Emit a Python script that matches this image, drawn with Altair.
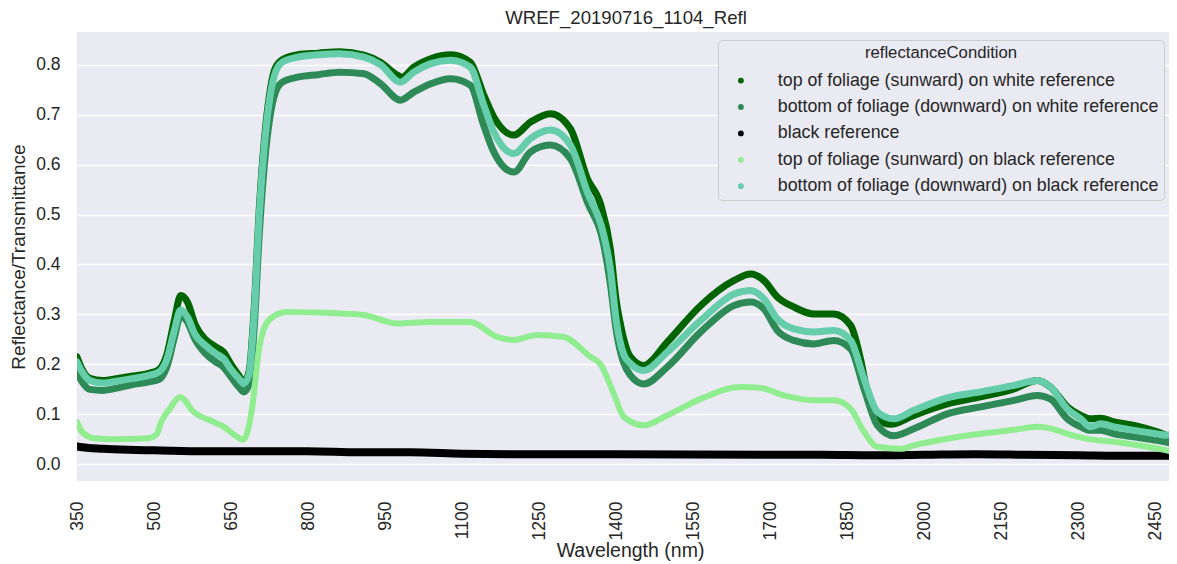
import altair as alt
import pandas as pd

# ---- data ----
SERIES = [
    "top of foliage (sunward) on white reference",
    "bottom of foliage (downward) on white reference",
    "black reference",
    "top of foliage (sunward) on black reference",
    "bottom of foliage (downward) on black reference",
]
COLORS = ["#006400", "#2E8B57", "#000000", "#90EE90", "#66CDAA"]
WIDTHS = [7, 7, 8, 6, 7]

top_white_wl = [350, 360, 375, 400, 430, 460, 490, 510, 525, 540, 552, 565, 580, 600, 620, 635, 650, 665, 675, 685,
                695, 705, 715, 725, 735, 750, 780, 820, 862, 909, 941, 974, 983, 1006, 1039, 1078, 1116, 1142, 1162,
                1201, 1233, 1272, 1311, 1344, 1370, 1389, 1400, 1409, 1428, 1454, 1500, 1565, 1630, 1662, 1688, 1714,
                1746, 1785, 1824, 1857, 1876, 1889, 1909, 1935, 1980, 2045, 2110, 2175, 2220, 2246, 2279, 2305, 2324,
                2344, 2370, 2409, 2454, 2487]
top_white_val = [0.215, 0.19, 0.172, 0.168, 0.172, 0.177, 0.182, 0.19, 0.22, 0.29, 0.338, 0.325, 0.28, 0.25, 0.235,
                 0.225, 0.2, 0.178, 0.165, 0.185, 0.31, 0.51, 0.65, 0.74, 0.79, 0.81, 0.82, 0.823, 0.826, 0.819, 0.805,
                 0.779, 0.775, 0.795, 0.812, 0.82, 0.805, 0.74, 0.695, 0.659, 0.685, 0.702, 0.672, 0.572, 0.52, 0.43,
                 0.33, 0.278, 0.215, 0.198, 0.245, 0.318, 0.368, 0.381, 0.368, 0.335, 0.315, 0.301, 0.301, 0.278,
                 0.211, 0.145, 0.091, 0.08, 0.098, 0.121, 0.135, 0.151, 0.168, 0.155, 0.115, 0.098, 0.091, 0.092,
                 0.085, 0.078, 0.065, 0.051]

bottom_white_wl = [350, 360, 375, 400, 430, 460, 490, 510, 525, 540, 552, 565, 580, 600, 620, 635, 650, 665, 675, 685,
                   695, 705, 715, 725, 735, 750, 780, 820, 862, 909, 941, 980, 1006, 1039, 1078, 1116, 1142, 1162,
                   1201, 1233, 1272, 1311, 1344, 1376, 1389, 1400, 1428, 1454, 1500, 1565, 1630, 1662, 1688, 1714,
                   1746, 1785, 1824, 1857, 1883, 1909, 1941, 1980, 2045, 2110, 2175, 2220, 2246, 2279, 2305, 2324,
                   2344, 2370, 2409, 2454, 2487]
bottom_white_val = [0.185, 0.165, 0.15, 0.148, 0.153, 0.16, 0.165, 0.17, 0.195, 0.255, 0.298, 0.285, 0.25, 0.222,
                    0.205, 0.195, 0.175, 0.155, 0.145, 0.16, 0.27, 0.46, 0.6, 0.69, 0.74, 0.765, 0.775, 0.78, 0.785,
                    0.782, 0.762, 0.729, 0.745, 0.762, 0.772, 0.759, 0.679, 0.625, 0.585, 0.625, 0.639, 0.612, 0.525,
                    0.439, 0.36, 0.27, 0.178, 0.161, 0.195, 0.265, 0.318, 0.325, 0.311, 0.268, 0.248, 0.241, 0.248,
                    0.231, 0.151, 0.078, 0.057, 0.071, 0.101, 0.115, 0.128, 0.138, 0.131, 0.091, 0.075, 0.068, 0.068,
                    0.061, 0.055, 0.048, 0.041]

black_wl = [350, 360, 400, 450, 500, 600, 700, 800, 900, 1000, 1100, 1200, 1400, 1700, 1800, 1900, 2000, 2100, 2200,
            2300, 2400, 2487]
black_val = [0.036, 0.034, 0.031, 0.029, 0.028, 0.026, 0.026, 0.026, 0.024, 0.024, 0.021, 0.02, 0.02, 0.019, 0.019,
             0.018, 0.019, 0.02, 0.019, 0.018, 0.017, 0.017]

top_black_wl = [350, 360, 384, 420, 488, 505, 514, 530, 551, 577, 616, 636, 655, 674, 690, 706, 725, 758, 862, 909,
                974, 1039, 1116, 1168, 1201, 1246, 1298, 1350, 1370, 1396, 1415, 1454, 1500, 1565, 1642, 1681, 1727,
                1785, 1824, 1857, 1883, 1909, 1954, 1980, 2045, 2110, 2175, 2220, 2253, 2279, 2318, 2370, 2435, 2487]
top_black_val = [0.085, 0.065, 0.052, 0.05, 0.052, 0.06, 0.085, 0.11, 0.135, 0.105, 0.085, 0.075, 0.06, 0.049, 0.105,
                 0.24, 0.29, 0.305, 0.302, 0.299, 0.282, 0.285, 0.285, 0.255, 0.249, 0.259, 0.255, 0.215, 0.2, 0.14,
                 0.095, 0.078, 0.098, 0.131, 0.155, 0.153, 0.138, 0.128, 0.128, 0.111, 0.065, 0.035, 0.031, 0.038,
                 0.051, 0.061, 0.069, 0.075, 0.07, 0.061, 0.051, 0.045, 0.035, 0.025]

bottom_black_wl = [350, 360, 375, 400, 430, 460, 490, 510, 525, 540, 552, 565, 580, 600, 620, 635, 650, 665, 675, 685,
                   695, 705, 715, 725, 735, 750, 780, 820, 862, 909, 941, 980, 1006, 1039, 1078, 1116, 1142, 1162,
                   1201, 1233, 1272, 1311, 1344, 1376, 1389, 1400, 1415, 1430, 1454, 1500, 1565, 1630, 1662, 1688,
                   1714, 1746, 1785, 1824, 1857, 1883, 1909, 1941, 1980, 2045, 2110, 2175, 2220, 2246, 2279, 2305,
                   2324, 2344, 2370, 2409, 2454, 2474, 2487]
bottom_black_val = [0.205, 0.185, 0.168, 0.163, 0.167, 0.172, 0.178, 0.185, 0.21, 0.27, 0.309, 0.295, 0.26, 0.238,
                    0.222, 0.212, 0.19, 0.172, 0.162, 0.18, 0.3, 0.5, 0.64, 0.73, 0.78, 0.805, 0.815, 0.82, 0.822,
                    0.815, 0.8, 0.765, 0.785, 0.802, 0.809, 0.795, 0.72, 0.665, 0.622, 0.652, 0.669, 0.639, 0.545,
                    0.459, 0.39, 0.29, 0.22, 0.2, 0.188, 0.225, 0.288, 0.341, 0.348, 0.331, 0.291, 0.271, 0.265,
                    0.268, 0.248, 0.171, 0.105, 0.091, 0.108, 0.133, 0.145, 0.158, 0.168, 0.155, 0.111, 0.091, 0.075,
                    0.081, 0.075, 0.068, 0.061, 0.058, 0.068]

X_TICKS = [350, 500, 650, 800, 950, 1100, 1250, 1400, 1550, 1700, 1850, 2000, 2150, 2300, 2450]
Y_TICKS = [0.0, 0.1, 0.2, 0.3, 0.4, 0.5, 0.6, 0.7, 0.8]

all_wl = [top_white_wl, bottom_white_wl, black_wl, top_black_wl, bottom_black_wl]
all_val = [top_white_val, bottom_white_val, black_val, top_black_val, bottom_black_val]

FONT = "Liberation Sans"
TXT = "#262626"

x_scale = alt.Scale(domain=[350, 2477], nice=False, zero=False)
y_scale = alt.Scale(domain=[-0.0334, 0.8654], nice=False, zero=False)
c_scale = alt.Scale(domain=SERIES, range=COLORS)

layers = []
for name, wl, val, sw in zip(SERIES, all_wl, all_val, WIDTHS):
    df = pd.DataFrame({"wl": wl, "refl": val, "reflectanceCondition": name})
    layers.append(
        alt.Chart(df).mark_line(strokeWidth=sw, strokeCap="round", strokeJoin="round", clip=True,
                                interpolate="monotone").encode(
            x=alt.X("wl:Q", scale=x_scale,
                    axis=alt.Axis(title="Wavelength (nm)", values=X_TICKS, format="d", labelAngle=-90, grid=False,
                                  ticks=False, domain=False, labelPadding=20, titlePadding=2, titleX=553,
                                  labelAlign="right", labelBaseline="middle")),
            y=alt.Y("refl:Q", scale=y_scale,
                    axis=alt.Axis(title="Reflectance/Transmittance", values=Y_TICKS, format=".1f", grid=True,
                                  ticks=False, domain=False, labelPadding=17, titlePadding=7,
                                  titleFontSize=19)),
            color=alt.Color("reflectanceCondition:N", scale=c_scale,
                            legend=alt.Legend(orient="none", legendX=641, legendY=8, title="reflectanceCondition",
                                              symbolType="circle")),
        )
    )

chart = alt.layer(*layers).properties(
    width=1092, height=449,
    title=alt.TitleParams("WREF_20190716_1104_Refl", font=FONT, fontSize=18.6, fontWeight="normal", color=TXT,
                          anchor="middle", offset=4, dx=3),
    autosize=alt.AutoSizeParams(type="none"),
    padding={"left": 69, "top": 24, "right": 0, "bottom": 81},
).configure_view(
    fill="#EAEAF2", stroke=None
).configure_axis(
    labelFont=FONT, titleFont=FONT, labelFontSize=17.5, titleFontSize=19.5, labelColor=TXT, titleColor=TXT,
    titleFontWeight="normal", gridColor="#FFFFFF", gridWidth=1.6,
).configure_legend(
    labelFont=FONT, titleFont=FONT, labelFontSize=17.8, titleFontSize=16.7, titleFontWeight="normal",
    labelColor=TXT, titleColor=TXT, titleAnchor="middle", fillColor="#EAEAF2", strokeColor="#CCCCCC",
    cornerRadius=4, padding=5, rowPadding=7.4, labelOffset=28, symbolOffset=9, symbolSize=8,
    symbolStrokeWidth=3, labelLimit=600, titlePadding=10,
)

chart.save("out.html", embed_options={"renderer": "svg", "actions": False})
